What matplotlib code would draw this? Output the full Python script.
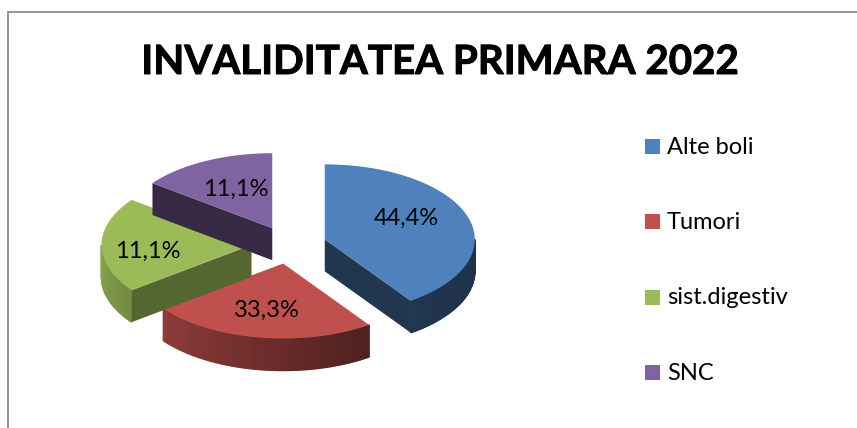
import numpy as np
import matplotlib
matplotlib.use("Agg")
import matplotlib.pyplot as plt
import matplotlib.patheffects as pe
from matplotlib.patches import Polygon, Rectangle
from matplotlib.colors import to_rgb

title = "INVALIDITATEA PRIMARA 2022"
categories = ["Alte boli", "Tumori", "sist.digestiv", "SNC"]
values = [44.4, 33.3, 11.1, 11.1]
value_labels = ["44,4%", "33,3%", "11,1%", "11,1%"]
colors = ["#4f81bd", "#c0504d", "#9bbb59", "#8064a2"]

plt.rcParams["font.family"] = ["Lato", "DejaVu Sans"]

# pixel layout of the pie
cx, cy = 289, 245
rx, ry = 150, 75
depth = 32
explode = 0.25


def warp(angle):
	# the 3D view in the original squeezes and stretches the angles
	return np.interp(angle, [0, 160, 280, 320, 360], [0, 145, 233, 307, 360])


def point(apex, phi, r=1.0):
	a = np.radians(phi)
	return np.array([apex[0] + r * rx * np.sin(a), apex[1] - r * ry * np.cos(a)])


def shade(col, f):
	return tuple(c * f for c in to_rgb(col))


fig = plt.figure(figsize=(8.57, 4.28), dpi=100)
ax = fig.add_axes([0, 0, 1, 1])
ax.set_xlim(0, 857)
ax.set_ylim(428, 0)
ax.axis("off")

# chart frame, only top and left edges are in the image
ax.plot([8.5, 8.5, 857], [428, 12, 12], color="#8c8c8c", linewidth=1.3, solid_joinstyle="miter")

ax.text(440, 62.5, title, ha="center", va="center", fontsize=29, fontweight="bold", color="black",
	path_effects=[pe.withStroke(linewidth=0.7, foreground="black")])

edges = np.cumsum([0] + values) / sum(values) * 360
slices = []
for i in range(len(values)):
	start, end = warp(edges[i]), warp(edges[i + 1])
	mid = (start + end) / 2
	apex = point((cx, cy), mid, explode)
	slices.append((start, end, apex))

label_offsets = [(82, -21), (-16, 47), (-104, 6), (-37, -39)]
wall_shades = [0.42, 0.42, 0.55, 0.42]

# back to front: SNC, Tumori, sist.digestiv, Alte boli
for i in [3, 1, 2, 0]:
	start, end, apex = slices[i]
	col = colors[i]
	centre = point(apex, (start + end) / 2, 0.6)

	# outer rim, shaded from left to right
	phis = np.arange(max(start, 90), min(end, 270), 1.0)
	phis = np.append(phis, min(end, 270))
	for a, b in zip(phis[:-1], phis[1:]):
		if b <= a:
			continue
		f = np.interp((a + b) / 2, [90, 150, 270], [0.38, 0.42, 0.88])
		p1, p2 = point(apex, a), point(apex, b)
		quad = [p1, p2, p2 + [0, depth], p1 + [0, depth]]
		ax.add_patch(Polygon(quad, closed=True, facecolor=shade(col, f), edgecolor=shade(col, f), linewidth=1.0, zorder=i + 2))

	# flat walls along the cuts, only the ones facing the viewer
	for phi in [start, end]:
		p = point(apex, phi)
		line_y = apex[1] + (p[1] - apex[1]) * (centre[0] - apex[0]) / (p[0] - apex[0] + 1e-9)
		if abs(p[0] - apex[0]) > 1 and centre[1] < line_y:
			wall = [apex, p, p + [0, depth], apex + [0, depth]]
			ax.add_patch(Polygon(wall, closed=True, facecolor=shade(col, wall_shades[i]), edgecolor="none", zorder=i + 2.2))

	# top face
	arc = [point(apex, a) for a in np.linspace(start, end, 80)]
	ax.add_patch(Polygon([apex] + arc, closed=True, facecolor=col, edgecolor="none", zorder=i + 2.5))

for i in range(len(values)):
	apex = slices[i][2]
	ax.text(apex[0] + label_offsets[i][0], apex[1] + label_offsets[i][1], value_labels[i], ha="center", va="center", fontsize=17, color="black", zorder=10)

# legend
legend_y = [146.5, 221.5, 297.5, 372.5]
for i in range(len(categories)):
	ax.add_patch(Rectangle((645, legend_y[i] - 7.5), 15, 15, facecolor=colors[i], edgecolor="none"))
	ax.text(667, legend_y[i] + 0.5, categories[i], ha="left", va="center", fontsize=17, color="black")

fig.savefig("out.png", dpi=100)
